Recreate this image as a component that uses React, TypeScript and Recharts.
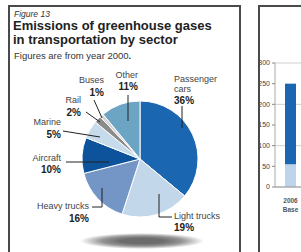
import { Bar, BarChart, CartesianGrid, Cell, Pie, PieChart, XAxis, YAxis } from "recharts";

const sectors = ["Passenger cars", "Light trucks", "Heavy trucks", "Aircraft", "Marine", "Rail", "Buses", "Other"];
const shares = [36, 19, 16, 10, 5, 2, 1, 11];
const sectorColors = ["#1b66b1", "#c2d7ea", "#7396c6", "#0d539b", "#c6dbec", "#8b8b8b", "#d4d4d4", "#6ca4c4"];

const years = ["2006"];
const yearNotes = ["Base"];
const lightPart = [55];
const darkPart = [195];
const yTicks = [0, 50, 100, 150, 200, 250, 300];

// label placement, relative to the pie centre
const labelLayout = [
  { anchor: "start", x: 34, y: -77, py: -55, wrap: true, leader: [[42, -53], [42, -31]] },
  { anchor: "start", x: 34, y: 60, py: 72, leader: [[19, 35], [19, 58], [32, 58]] },
  { anchor: "end", x: -51, y: 50, py: 63, leader: [[-38, 29], [-38, 48], [-48, 48]] },
  { anchor: "end", x: -79, y: 2, py: 14, leader: [[-74, 3], [-31, 3]] },
  { anchor: "end", x: -79, y: -34, py: -21, leader: [[-77, -28], [-40, -22]] },
  { anchor: "end", x: -59, y: -56, py: -43, leader: [[-54, -47], [-40, -37]] },
  { anchor: "end", x: -36, y: -76, py: -63, leader: [[-46, -59], [-38, -41]] },
  { anchor: "end", x: -2, y: -81, py: -69, leader: [[-12, -64], [-12, -38]] },
];

const pieData = sectors.map((name, i) => ({ name, value: shares[i] }));
const barData = years.map((year, i) => ({ year, light: lightPart[i], dark: darkPart[i] }));

const renderLabel = (props: any) => {
  const { cx, cy, index } = props;
  const l = labelLayout[index];
  const lines = l.wrap ? sectors[index].split(" ") : [sectors[index]];
  const pts = l.leader.map(([dx, dy]) => `${cx + dx},${cy + dy}`).join(" ");
  return (
    <g key={`lbl-${index}`}>
      <polyline points={pts} fill="none" stroke="#222" strokeWidth={1} />
      {lines.map((t, i) => (
        <text key={i} x={cx + l.x} y={cy + l.y + i * 10} textAnchor={l.anchor as any} fontSize={9} fill="#444">
          {t}
        </text>
      ))}
      <text x={cx + l.x} y={cy + l.py} textAnchor={l.anchor as any} fontSize={10} fontWeight="bold" fill="#222">
        {shares[index]}%
      </text>
    </g>
  );
};

const YearTick = (props: any) => {
  const { x, y, payload, index } = props;
  return (
    <g>
      <text x={x} y={y + 8} textAnchor="middle" fontSize={6.5} fontWeight="bold" fill="#555">
        {payload.value}
      </text>
      <text x={x} y={y + 17} textAnchor="middle" fontSize={6.5} fontWeight="bold" fill="#555">
        {yearNotes[index] ?? ""}
      </text>
    </g>
  );
};

const abs = (left: number, top: number): React.CSSProperties => ({ position: "absolute", left, top });

export default function App() {
  return (
    <div
      style={{
        position: "absolute",
        left: 0,
        top: 0,
        width: 301,
        height: 252,
        overflow: "hidden",
        background: "#fff",
        fontFamily: "'Liberation Sans', Arial, sans-serif",
        color: "#222",
      }}
    >
      <div style={{ ...abs(14, 10), fontSize: 8.5, fontStyle: "italic", lineHeight: 1, color: "#333" }}>Figure 13</div>
      <div style={{ ...abs(13, 19), fontSize: 13, fontWeight: "bold", lineHeight: "14px", whiteSpace: "nowrap" }}>
        Emissions of greenhouse gases
        <br />
        in transportation by sector
      </div>
      <div style={{ ...abs(14, 51), fontSize: 9.5, lineHeight: 1, color: "#333", whiteSpace: "nowrap" }}>
        Figures are from year 2000<b>.</b>
      </div>

      <div
        style={{
          ...abs(80, 233),
          width: 124,
          height: 16,
          borderRadius: "50%",
          background: "radial-gradient(closest-side, #6c6c6c 35%, #959595 65%, rgba(255,255,255,0) 100%)",
        }}
      />

      <div style={abs(0, 0)}>
        <PieChart width={240} height={252} margin={{ top: 0, right: 0, bottom: 0, left: 0 }}>
          <Pie
            data={pieData}
            dataKey="value"
            cx={140}
            cy={159}
            outerRadius={58}
            startAngle={90}
            endAngle={-270}
            stroke="#fff"
            strokeWidth={1}
            label={renderLabel}
            labelLine={false}
            isAnimationActive={false}
          >
            {pieData.map((d, i) => (
              <Cell key={d.name} fill={sectorColors[i]} />
            ))}
          </Pie>
        </PieChart>
      </div>

      <div style={abs(245, 0)}>
        <BarChart width={61} height={217} data={barData} margin={{ top: 63, right: 0, bottom: 0, left: 0 }}>
          <CartesianGrid vertical={false} stroke="#cfcfcf" />
          <XAxis dataKey="year" tick={<YearTick />} tickLine={false} axisLine={{ stroke: "#999" }} height={30} interval={0} />
          <YAxis
            width={30}
            domain={[0, 300]}
            ticks={yTicks}
            tickSize={3}
            tick={{ fontSize: 7, fill: "#444" }}
            axisLine={{ stroke: "#aaa" }}
            tickLine={{ stroke: "#888" }}
          />
          <Bar dataKey="light" stackId="a" fill="#bdd4ea" barSize={11} isAnimationActive={false} />
          <Bar dataKey="dark" stackId="a" fill="#1a66b1" barSize={11} isAnimationActive={false} />
        </BarChart>
      </div>

      <div
        style={{
          ...abs(8, 5),
          width: 233,
          height: 260,
          boxSizing: "border-box",
          border: "2px solid #4a4a4a",
          borderBottom: "none",
        }}
      />
      <div
        style={{
          ...abs(258, 5),
          width: 60,
          height: 260,
          boxSizing: "border-box",
          border: "2px solid #4a4a4a",
          borderBottom: "none",
          borderRight: "none",
        }}
      />
    </div>
  );
}
